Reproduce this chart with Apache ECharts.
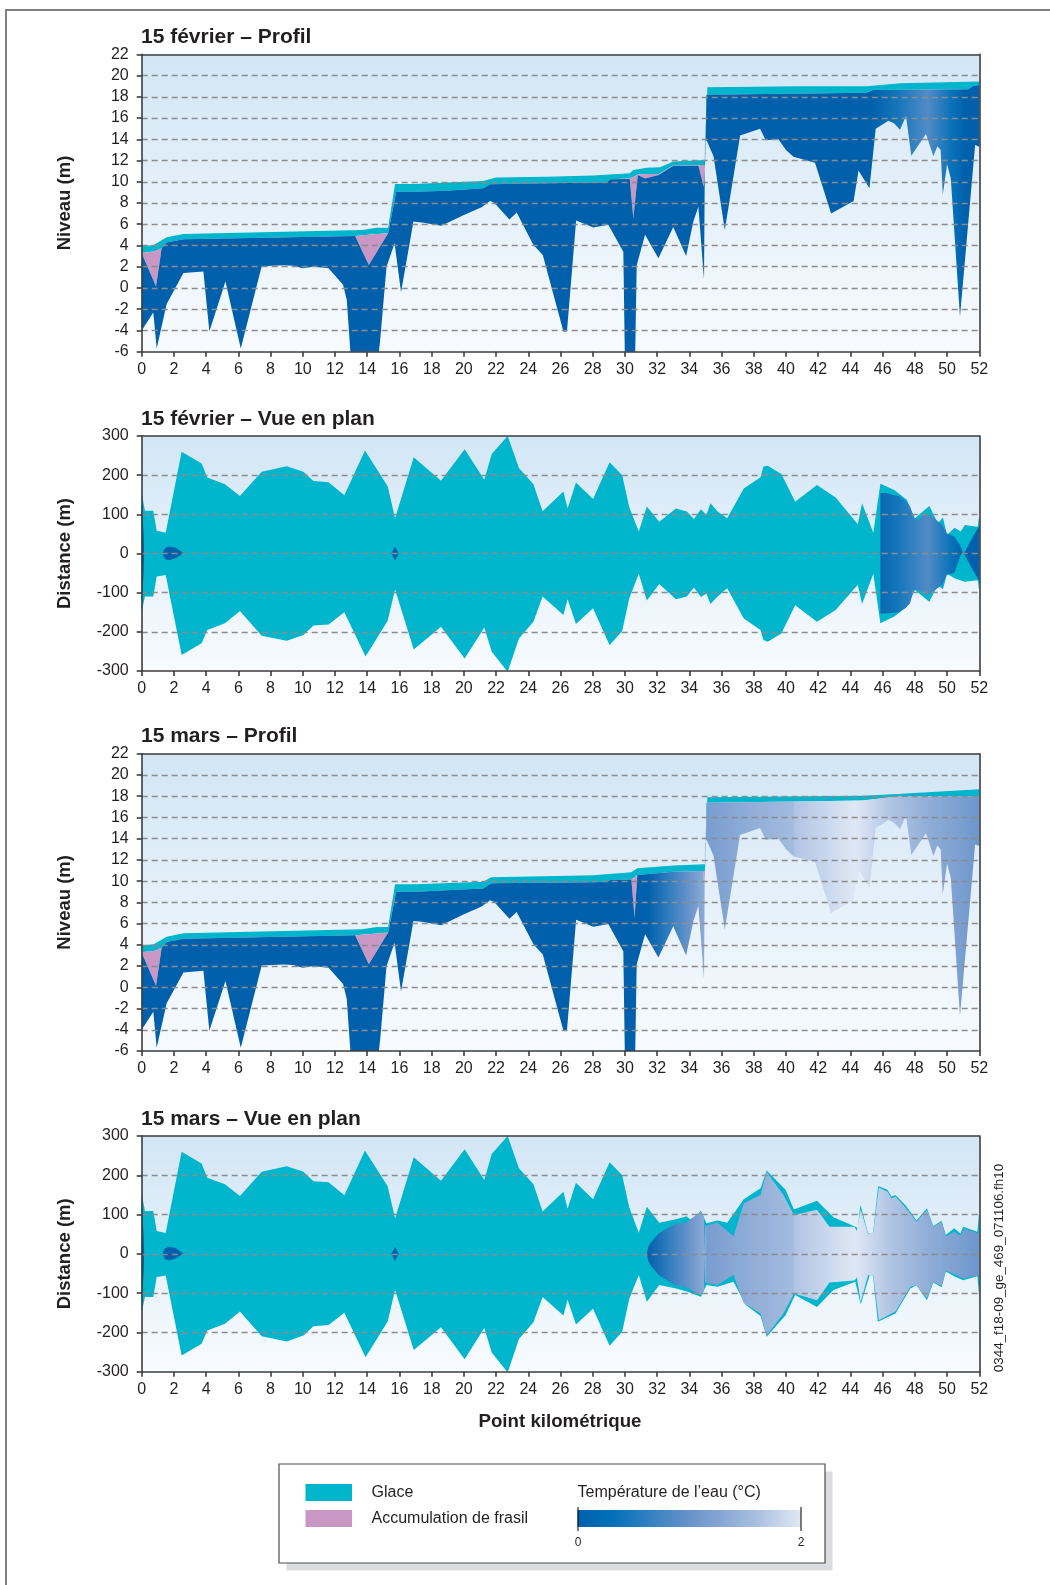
<!DOCTYPE html>
<html>
<head>
<meta charset="utf-8">
<script src="https://cdn.jsdelivr.net/npm/echarts@6/dist/echarts.min.js"></script>
<style>
html,body{margin:0;padding:0;background:#fff;}
#main{width:1050px;height:1585px;}
</style>
</head>
<body>
<div id="main"></div>
<script>
// lit du graphique : [point kilométrique, niveau (m)]
const bed = [[0,-4],[0.72,-2.3],[0.93,-5.7],[1.55,-1.5],[2.59,1.4],[3.83,1.55],[4.2,-4.1],[5.2,0.6],[6.15,-5.7],[7.45,2.05],[8.8,2.15],[9.4,2.1],[10.0,1.85],[10.65,2.0],[11.6,1.85],[12.5,0.3],[12.73,-1.1],[13.0,-7],[14.65,-7],[14.8,-5],[15.2,2.0],[15.7,4.2],[16.1,-0.4],[16.87,6.25],[17.5,6.15],[18.6,5.85],[19.97,6.85],[21.1,7.6],[21.63,8.2],[21.9,8.0],[22.83,6.45],[23.28,7.1],[24.32,4.05],[24.9,3.1],[26.18,-4.1],[26.4,-4.1],[26.97,6.35],[28.04,5.7],[28.97,5.95],[29.9,3.4],[30.0,-7],[30.63,-7],[30.73,2.15],[31.25,5.0],[32.08,2.8],[33.0,5.75],[33.8,3.0],[34.25,6.25],[34.56,7.65],[34.91,0.75],[34.97,13.6],[35.07,13.9],[35.5,12.4],[36.2,5.45],[37.15,14.35],[38.39,15.0],[38.74,13.9],[39.53,14.0],[40.0,13.0],[40.46,12.35],[41.8,11.8],[42.8,7.0],[44.2,8.2],[44.5,11.05],[45.18,9.4],[45.57,15.0],[46.36,15.75],[46.7,15.5],[47.08,14.9],[47.45,16.2],[47.78,12.45],[48.69,14.5],[49.15,12.4],[49.4,13.35],[49.6,13.0],[49.73,8.75],[50.0,11.65],[50.23,10.3],[50.8,-2.7],[51.74,13.45],[52,13.3]];

// 15 février - profil
const iceTopF = [[0,3.95],[0.75,4.05],[1.55,4.77],[2.59,5.08],[13.66,5.46],[14.6,5.68],[15.3,5.68],[15.73,9.79],[17.0,9.79],[18.93,9.92],[21.2,10.07],[22.0,10.39],[25.15,10.48],[28.04,10.58],[30.3,10.8],[30.52,11.1],[31.35,11.33],[32.18,11.36],[33.0,11.9],[34.97,12.05],[35.12,18.9],[40.87,19.0],[45.0,19.0],[47.08,19.27],[52,19.43]];
const iceBotF = [[0,3.3],[0.8,3.45],[1.24,3.73],[1.55,4.27],[2.59,4.58],[13.25,4.9],[14.4,5.05],[15.3,5.15],[15.8,9.05],[17.0,9.05],[18.93,9.16],[21.2,9.38],[21.63,9.76],[25.15,9.85],[28.87,9.92],[29.08,10.23],[30.3,10.3],[30.8,10.68],[31.5,10.72],[32.1,10.72],[33.0,11.55],[34.97,11.58],[35.07,18.2],[45.0,18.39],[45.4,18.64],[51.3,18.7],[51.6,19.0],[52,19.1]];
const waterTopF = [[0,3.26],[0.89,0.15],[1.24,3.73],[1.55,4.27],[2.59,4.58],[13.25,4.9],[14.1,2.17],[15.3,5.15],[15.8,9.05],[17.0,9.05],[18.93,9.16],[21.2,9.38],[21.63,9.76],[25.15,9.85],[28.87,9.92],[29.08,10.23],[30.3,10.25],[30.52,6.56],[30.8,10.64],[31.25,10.3],[32.1,10.64],[33.0,11.5],[34.56,11.5],[34.9,9.5],[34.97,11.58],[35.07,18.2],[45.0,18.39],[45.4,18.64],[51.3,18.7],[51.6,19.0],[52,19.1]];
// température de l'eau (°C) le long du tronçon
const tempF = [[0,0],[45.3,0],[47,0.45],[48.8,0.85],[50.3,0.35],[51.1,0],[52,0]];

// 15 mars - profil
const iceTopM = [[0,3.95],[0.75,4.05],[1.55,4.77],[2.59,5.08],[13.66,5.46],[14.6,5.68],[15.3,5.68],[15.73,9.7],[17.0,9.7],[21.2,9.95],[21.7,10.36],[25,10.45],[28,10.55],[30.4,10.83],[30.77,11.21],[33,11.46],[34.97,11.58],[35.12,17.9],[44.75,18.03],[46.9,18.2],[52,18.65]];
const iceBotM = [[0,3.3],[0.8,3.45],[1.24,3.73],[1.55,4.27],[2.59,4.58],[13.25,4.9],[14.4,5.05],[15.3,5.15],[15.8,9.0],[17,9.0],[21.2,9.3],[21.7,9.8],[25,9.85],[28.9,9.92],[29.1,10.1],[30.4,10.15],[30.77,10.58],[33,10.89],[34.97,10.95],[35.07,17.39],[44.75,17.6],[46.9,17.98],[52,18.0]];
const waterTopM = [[0,3.26],[0.89,0.15],[1.24,3.73],[1.55,4.27],[2.59,4.58],[13.25,4.9],[14.1,2.17],[15.3,5.15],[15.8,9.0],[17,9.0],[21.2,9.3],[21.7,9.8],[25,9.85],[28.9,9.92],[29.1,10.1],[30.4,10.15],[30.6,6.5],[30.77,10.58],[33,10.89],[34.85,10.95],[34.93,9.6],[34.97,10.95],[35.07,17.39],[44.75,17.6],[46.9,17.98],[52,18.0]];
const tempM = [[0,0],[31.4,0],[33,0.7],[34.1,1.05],[34.97,1.35],[35.1,1.15],[37,1.3],[40.45,1.55],[40.55,1.65],[44.3,2],[46.5,1.65],[49,1.35],[52,1.05]];

// vue en plan : [point kilométrique, distance (m)]
const planTopF = [[0,154],[0.2,109],[0.72,109],[0.93,58],[1.49,53],[2.48,260],[3.72,230],[4.07,194],[5.17,177],[6.1,147],[7.45,209],[9.0,223],[10.04,209],[10.66,185],[11.6,182],[12.58,149],[13.86,263],[15.27,172],[15.73,90],[16.89,246],[18.58,186],[20.05,266],[21.27,188],[21.73,254],[22.72,300],[23.42,218],[24.32,177],[24.89,108],[26.18,158],[26.44,115],[26.96,181],[28.02,139],[29.05,233],[29.83,200],[30.27,118],[30.86,56],[31.36,120],[32.13,81],[33.17,115],[33.84,107],[34.28,88],[34.72,113],[35.06,98],[35.31,128],[35.75,107],[36.35,90],[37.38,166],[38.42,195],[38.6,222],[38.86,224],[39.71,203],[40.57,132],[41.92,175],[43.08,143],[44.46,75],[44.72,128],[45.42,53],[45.86,178],[46.72,162],[47.5,137],[48.0,90],[48.9,121],[49.43,77],[49.74,92],[50.0,47],[50.46,66],[50.85,56],[51.1,73],[51.9,68],[52,98]];
const planBotF = [[0,-149],[0.2,-110],[0.72,-110],[0.93,-59],[1.49,-55],[2.48,-259],[3.72,-229],[4.07,-195],[5.17,-178],[6.1,-147],[7.45,-210],[9.0,-223],[10.04,-208],[10.66,-184],[11.6,-181],[12.58,-150],[13.9,-263],[15.27,-172],[15.73,-92],[16.89,-245],[18.58,-187],[20.05,-268],[21.27,-189],[21.73,-251],[22.72,-302],[23.42,-217],[24.32,-174],[24.89,-110],[26.18,-157],[26.44,-117],[26.96,-180],[28.02,-140],[29.05,-234],[29.83,-198],[30.27,-114],[30.86,-52],[31.36,-120],[32.13,-78],[33.17,-117],[33.84,-110],[34.28,-87],[34.72,-111],[35.06,-102],[35.31,-129],[35.75,-110],[36.35,-89],[37.38,-166],[38.42,-195],[38.6,-221],[38.86,-225],[39.71,-204],[40.57,-132],[41.92,-174],[43.08,-144],[44.46,-80],[44.72,-129],[45.42,-52],[45.86,-178],[46.72,-161],[47.5,-136],[48.0,-93],[48.9,-123],[49.43,-80],[49.74,-92],[50.0,-52],[50.46,-63],[51.1,-72],[51.9,-68],[52,-97]];
const openF1 = [[45.86,154],[46.2,155],[46.6,150],[47.0,147],[47.4,135],[47.7,120],[47.93,90],[48.2,86],[48.74,103],[49.2,90],[49.7,73],[49.97,52],[50.46,43],[50.85,18],[51.0,0],[50.85,-3],[50.46,-49],[49.97,-55],[49.7,-80],[49.2,-95],[48.74,-106],[48.2,-93],[47.93,-93],[47.7,-127],[47.4,-140],[47.0,-150],[46.6,-152],[46.2,-153],[45.86,-153]];
const openF2 = [[51.05,0],[51.5,35],[52,70],[52,-70],[51.5,-35]];

const planTopTailM = [[30.86,54],[31.36,120],[32.13,79],[33.17,88],[33.84,96],[34.15,84],[34.72,110],[35.06,78],[35.75,85],[36.35,79],[37.38,139],[38.42,167],[38.8,212],[39.97,163],[40.49,113],[41.92,135],[42.95,93],[44.38,68],[44.45,62],[44.62,125],[45.1,52],[45.4,52],[45.72,173],[46.29,163],[46.55,146],[46.8,150],[47.46,122],[48.1,85],[48.75,116],[49.14,71],[49.66,84],[49.92,48],[50.44,65],[50.83,52],[51.0,69],[51.88,56],[52,112]];
const planBotTailM = [[30.86,-54],[31.36,-122],[32.13,-79],[33.17,-88],[33.84,-96],[34.72,-109],[35.06,-79],[35.75,-84],[36.74,-71],[37.5,-130],[38.42,-158],[38.8,-211],[39.97,-156],[40.57,-105],[41.92,-135],[42.95,-92],[44.3,-71],[44.64,-128],[45.2,-54],[45.4,-56],[45.7,-173],[46.8,-152],[47.72,-88],[48.1,-80],[48.75,-118],[49.14,-73],[49.66,-85],[49.92,-45],[50.44,-57],[51.0,-67],[51.88,-57],[52,-113]];
const openM = [[31.36,0],[31.45,18],[31.57,27],[32.09,52],[33.1,76],[33.75,79],[34.72,107],[34.9,95],[34.93,4],[34.97,72],[35.1,72],[35.75,79],[36.74,45],[37.38,129],[38.42,150],[38.8,209],[39.84,150],[40.49,99],[41.92,112],[42.7,69],[44.25,69],[44.4,58],[44.64,112],[45.1,50],[45.42,55],[45.76,169],[46.3,158],[46.55,141],[46.8,146],[47.46,116],[48.1,82],[48.75,112],[49.14,69],[49.66,82],[49.92,44],[50.44,56],[50.83,47],[51.07,64],[51.88,53],[52,52],
  [52,-54],[51.88,-56],[51.0,-62],[50.44,-51],[49.92,-43],[49.66,-82],[49.14,-71],[48.75,-113],[48.1,-80],[47.72,-84],[46.8,-147],[45.76,-169],[45.42,-56],[45.1,-54],[44.64,-122],[44.4,-60],[44.25,-68],[42.7,-73],[41.92,-118],[40.49,-101],[39.84,-152],[38.8,-207],[38.42,-152],[37.38,-126],[36.74,-54],[35.75,-79],[35.1,-75],[34.97,-72],[34.93,-4],[34.9,-95],[34.72,-105],[33.75,-84],[33.1,-79],[32.09,-54],[31.57,-28],[31.45,-18]];

// petites zones d'eau libre (les deux dates)
const openSliver = [[0,125],[0.12,50],[0.15,0],[0.12,-50],[0,-125]];
const openLens = [[1.28,0],[1.45,14],[1.7,18],[2.1,15],[2.45,5],[2.6,2],[2.45,-3],[2.1,-12],[1.7,-17],[1.45,-14]];
const openDiamond = [[15.5,0],[15.73,18],[15.95,0],[15.73,-18]];

// échelle de couleur de la température (°C)
const tempStops = [[0,'#0060ac'],[0.3,'#0070b8'],[1,'#6892ca'],[1.6,'#a9bfe1'],[2,'#e0e8f5']];

const FONT = "'Liberation Sans', Arial, sans-serif";
const INK = '#231f20';
const GLACE = '#00b5cc';
const FRASIL = '#c897c4';
const AXIS = '#3d3d3d';

function band(upper, lower) { return upper.concat(lower.slice().reverse()); }
function hexToRgb(h) { return [1,3,5].map(i => parseInt(h.slice(i, i + 2), 16)); }
function tempColor(t) {
  for (let i = 1; i < tempStops.length; i++) {
    const [t0, c0] = tempStops[i - 1], [t1, c1] = tempStops[i];
    if (t <= t1) {
      const f = (t - t0) / (t1 - t0), a = hexToRgb(c0), b = hexToRgb(c1);
      return 'rgb(' + a.map((v, k) => Math.round(v + (b[k] - v) * f)).join(',') + ')';
    }
  }
  return tempStops[tempStops.length - 1][1];
}
function waterFill(temps) {
  return function (api) {
    const x0 = api.coord([0, 0])[0], x1 = api.coord([52, 0])[0];
    return new echarts.graphic.LinearGradient(x0, 0, x1, 0,
      temps.map(([km, t]) => ({ offset: km / 52, color: tempColor(t) })), true);
  };
}
function poly(g, pts, fill) {
  return {
    type: 'custom', xAxisIndex: g, yAxisIndex: g, clip: true, silent: true, animation: false,
    data: [pts[0]],
    renderItem: function (params, api) {
      return {
        type: 'polygon',
        shape: { points: pts.map(p => api.coord(p)) },
        style: { fill: typeof fill === 'function' ? fill(api) : fill }
      };
    }
  };
}

const planTopM = planTopF.filter(p => p[0] < 30.5).concat(planTopTailM);
const planBotM = planBotF.filter(p => p[0] < 30.5).concat(planBotTailM);

const gridPos = [
  { top: 54.3, height: 297.4 },
  { top: 436, height: 235 },
  { top: 753.7, height: 297.3 },
  { top: 1136, height: 235.7 }
];
const isProfile = [true, false, true, false];

const chart = echarts.init(document.getElementById('main'));

const grids = gridPos.map(p => ({
  left: 141.7, width: 837.6, top: p.top, height: p.height, show: true, borderWidth: 0,
  backgroundColor: new echarts.graphic.LinearGradient(0, 0, 0, 1, [
    { offset: 0, color: '#d2e6f5' }, { offset: 1, color: '#f8fbfe' }])
}));

const lineStyle = { color: AXIS, width: 1.6 };
const xAxes = [], yAxes = [];
gridPos.forEach((p, g) => {
  xAxes.push({
    gridIndex: g, type: 'value', min: 0, max: 52, interval: 2, z: 10,
    axisLine: { onZero: false, lineStyle },
    axisTick: { length: 5, lineStyle },
    axisLabel: { fontSize: 16, color: INK, margin: 10, fontFamily: FONT },
    splitLine: { show: false }
  });
  yAxes.push({
    gridIndex: g, type: 'value', z: 10,
    min: isProfile[g] ? -6 : -300, max: isProfile[g] ? 22 : 300, interval: isProfile[g] ? 2 : 100,
    axisLine: { show: true, onZero: false, lineStyle },
    axisTick: { show: true, length: 5, lineStyle },
    axisLabel: { fontSize: 16, color: INK, margin: 13, fontFamily: FONT },
    splitLine: { show: true, showMinLine: false, showMaxLine: false,
      lineStyle: { type: [6, 4], color: '#8c8c8c', width: 1.3 } }
  });
});
// cadre haut / droite des zones de tracé
gridPos.forEach((p, g) => {
  xAxes.push({ gridIndex: g, type: 'value', position: 'top', min: 0, max: 52, z: 10,
    axisLine: { onZero: false, lineStyle }, axisTick: { show: false },
    axisLabel: { show: false }, splitLine: { show: false } });
  yAxes.push({ gridIndex: g, type: 'value', position: 'right', min: 0, max: 1, z: 10,
    axisLine: { show: true, onZero: false, lineStyle }, axisTick: { show: false },
    axisLabel: { show: false }, splitLine: { show: false } });
});

const dark = tempColor(0);
const series = [
  // 15 février - profil
  poly(0, band(iceTopF, iceBotF), GLACE),
  poly(0, band(iceBotF, waterTopF), FRASIL),
  poly(0, band(waterTopF, bed), waterFill(tempF)),
  // 15 février - vue en plan
  poly(1, band(planTopF, planBotF), GLACE),
  poly(1, openSliver, dark),
  poly(1, openLens, dark),
  poly(1, openDiamond, dark),
  poly(1, openF1, waterFill(tempF)),
  poly(1, openF2, waterFill(tempF)),
  // 15 mars - profil
  poly(2, band(iceTopM, iceBotM), GLACE),
  poly(2, band(iceBotM, waterTopM), FRASIL),
  poly(2, band(waterTopM, bed), waterFill(tempM)),
  // 15 mars - vue en plan
  poly(3, band(planTopM, planBotM), GLACE),
  poly(3, openSliver, dark),
  poly(3, openLens, dark),
  poly(3, openDiamond, dark),
  poly(3, openM, waterFill(tempM))
];

function txt(x, y, text, size, weight, align, rot) {
  return { type: 'text', x: x, y: y, rotation: rot || 0, silent: true, z: 20,
    style: { text: text, fill: INK, fontSize: size, fontWeight: weight || 'normal', fontFamily: FONT,
      textAlign: align || 'left', textVerticalAlign: 'middle' } };
}
const titles = ['15 février – Profil', '15 février – Vue en plan', '15 mars – Profil', '15 mars – Vue en plan'];
const titleY = [37.5, 418.8, 736.7, 1118.8];
const graphics = [
  { type: 'rect', z: -1, silent: true, shape: { x: 6, y: 10, width: 1100, height: 1600 },
    style: { fill: 'none', stroke: '#808080', lineWidth: 2 } }
];
titles.forEach((t, i) => graphics.push(txt(141, titleY[i], t, 21, 'bold')));
gridPos.forEach((p, g) => graphics.push(
  txt(65, p.top + p.height / 2, isProfile[g] ? 'Niveau (m)' : 'Distance (m)', 18.5, 'bold', 'center', Math.PI / 2)));
graphics.push(txt(560, 1421.7, 'Point kilométrique', 18.7, 'bold', 'center'));
graphics.push(txt(999.5, 1268, '0344_f18-09_ge_469_071106.fh10', 13.4, 'normal', 'center', Math.PI / 2));

// légende
graphics.push(
  { type: 'rect', silent: true, shape: { x: 286.5, y: 1471.5, width: 546, height: 99 }, style: { fill: '#dcdde0' } },
  { type: 'rect', silent: true, shape: { x: 279, y: 1464, width: 546, height: 99 }, style: { fill: '#fff', stroke: '#4d4d4d', lineWidth: 1.2 } },
  { type: 'rect', silent: true, shape: { x: 305.5, y: 1484, width: 46.5, height: 17 }, style: { fill: GLACE } },
  { type: 'rect', silent: true, shape: { x: 305.5, y: 1510, width: 46.5, height: 17 }, style: { fill: FRASIL } },
  txt(371.5, 1492.5, 'Glace', 16),
  txt(371.5, 1519, 'Accumulation de frasil', 16),
  txt(577.5, 1492.5, 'Température de l’eau (°C)', 16),
  { type: 'rect', silent: true, shape: { x: 577.6, y: 1510, width: 223.4, height: 17 },
    style: { fill: new echarts.graphic.LinearGradient(0, 0, 1, 0,
      tempStops.map(([t, c]) => ({ offset: t / 2, color: c }))) } },
  { type: 'line', silent: true, shape: { x1: 578, y1: 1507, x2: 578, y2: 1531 }, style: { stroke: '#000', lineWidth: 1 } },
  { type: 'line', silent: true, shape: { x1: 801, y1: 1507, x2: 801, y2: 1531 }, style: { stroke: '#000', lineWidth: 1 } },
  txt(578, 1543, '0', 12, 'normal', 'center'),
  txt(801, 1543, '2', 12, 'normal', 'center')
);

chart.setOption({
  animation: false,
  backgroundColor: '#fff',
  grid: grids,
  xAxis: xAxes,
  yAxis: yAxes,
  series: series,
  graphic: graphics
});
</script>
</body>
</html>
